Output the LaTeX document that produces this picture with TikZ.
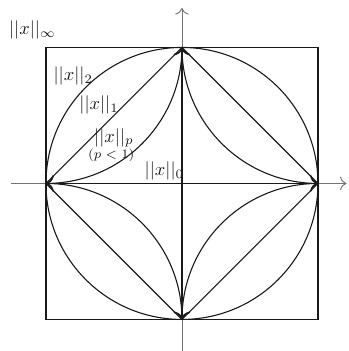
\documentclass[tikz,border=0pt]{standalone}
\usetikzlibrary{arrows.meta}
\usepackage{xcolor}
\usepackage{amsmath}
\definecolor{Ink}{HTML}{1A1A1A}

\begin{document}
\begin{tikzpicture}[x=2.6cm,y=2.6cm]
\useasboundingbox (-1.338,-1.232) rectangle (1.221,1.349);
\coordinate (O) at (0,0);
\coordinate (E) at (1,0); \coordinate (N) at (0,1); \coordinate (W) at (-1,0); \coordinate (S) at (0,-1);
\coordinate (xl) at (-1.257,0); \coordinate (xr) at (1.21,0);
\coordinate (yb) at (0,-1.30); \coordinate (yt) at (0,1.29);
\draw[black!55,line width=0.5pt,-{To[scale=1.3]}] (xl) -- (xr);
\draw[black!55,line width=0.5pt,-{To[scale=1.3]}] (yb) -- (yt);
\draw[Ink,line width=0.7pt] (-1,-1) rectangle (1,1);
\draw[Ink,line width=0.6pt] (O) circle (1);
\draw[Ink,line width=0.6pt] (E) -- (N) -- (W) -- (S) -- cycle;
\draw[Ink,line width=0.6pt] (W) arc[start angle=-90,end angle=0,radius=1] arc[start angle=180,end angle=270,radius=1] arc[start angle=90,end angle=180,radius=1] arc[start angle=0,end angle=90,radius=1];
\foreach \v in {E,N,W,S} {\draw[Ink,line width=0.9pt,-{To[scale=1.2]}] (O) -- (\v);}
\node[text=Ink] (linf) at (-1.10,1.13) {$||x||_\infty$};
\node[text=Ink] (ltwo) at (-0.80,0.79) {$||x||_2$};
\node[text=Ink] (lone) at (-0.61,0.577) {$||x||_1$};
\node[text=Ink] (lp) at (-0.50,0.335) {$||x||_p$};
\node[text=Ink,font=\scriptsize,inner sep=0pt] (lpcond) at (-0.52,0.21) {$(p<1)$};
\node[text=Ink] (lzero) at (-0.13,0.09) {$||x||_0$};
\end{tikzpicture}
\end{document}
